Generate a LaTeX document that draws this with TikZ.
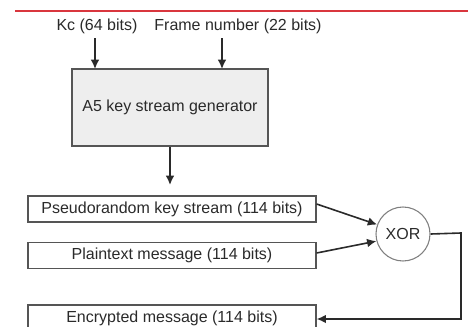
\documentclass[tikz,border=0pt]{standalone}
\usepackage{fontspec}
\setmainfont{Liberation Sans}
\usetikzlibrary{arrows.meta}
\definecolor{redline}{HTML}{D9363E}
\definecolor{boxfill}{HTML}{EEEEEE}
\definecolor{ink}{HTML}{2A2A2A}
\begin{document}
\begin{tikzpicture}[x=0.75pt,y=-0.75pt,
  every node/.style={font=\fontsize{12}{14}\selectfont, text=ink},
  msgbox/.style={draw=ink!80, line width=0.9pt, minimum width=216pt, minimum height=19.5pt, inner sep=0pt},
  arr/.style={draw=ink, line width=1.2pt, -{Latex[length=7pt,width=6.5pt]}}]
\useasboundingbox (0,0) rectangle (468,326);
\draw[redline, line width=1.2pt] (15,11) -- (468,11);
\node (kc) at (97,26) {Kc (64 bits)};
\node (fn) at (238,26) {Frame number (22 bits)};
\node[draw=ink!80, fill=boxfill, line width=0.9pt, minimum width=147pt, minimum height=57.75pt, inner sep=0pt] (gen) at (170,107.5) {A5 key stream generator};
\coordinate (kcin) at (95,69);
\coordinate (fnin) at (222,69);
\draw[arr] (95,38) -- (kcin);
\draw[arr] (222,38) -- (fnin);
\coordinate (ksin) at (170,185);
\draw[arr] (gen.south) -- (ksin);
\node[msgbox] (ks) at (172,209) {Pseudorandom key stream (114 bits)};
\node[msgbox] (pt) at (172,255.5) {Plaintext message (114 bits)};
\node[msgbox] (enc) at (172,318) {Encrypted message (114 bits)};
\node[draw=ink!60, circle, line width=0.8pt, minimum size=40.5pt, inner sep=0pt] (xor) at (403,234) {XOR};
\draw[arr] (ks.east |- 0,204) -- (xor.160);
\draw[arr] (pt.east |- 0,253) -- (xor.195);
\draw[arr] (xor.east) -- (461,233) -- (461,319) -- (enc.east |- 0,319);
\end{tikzpicture}
\end{document}
